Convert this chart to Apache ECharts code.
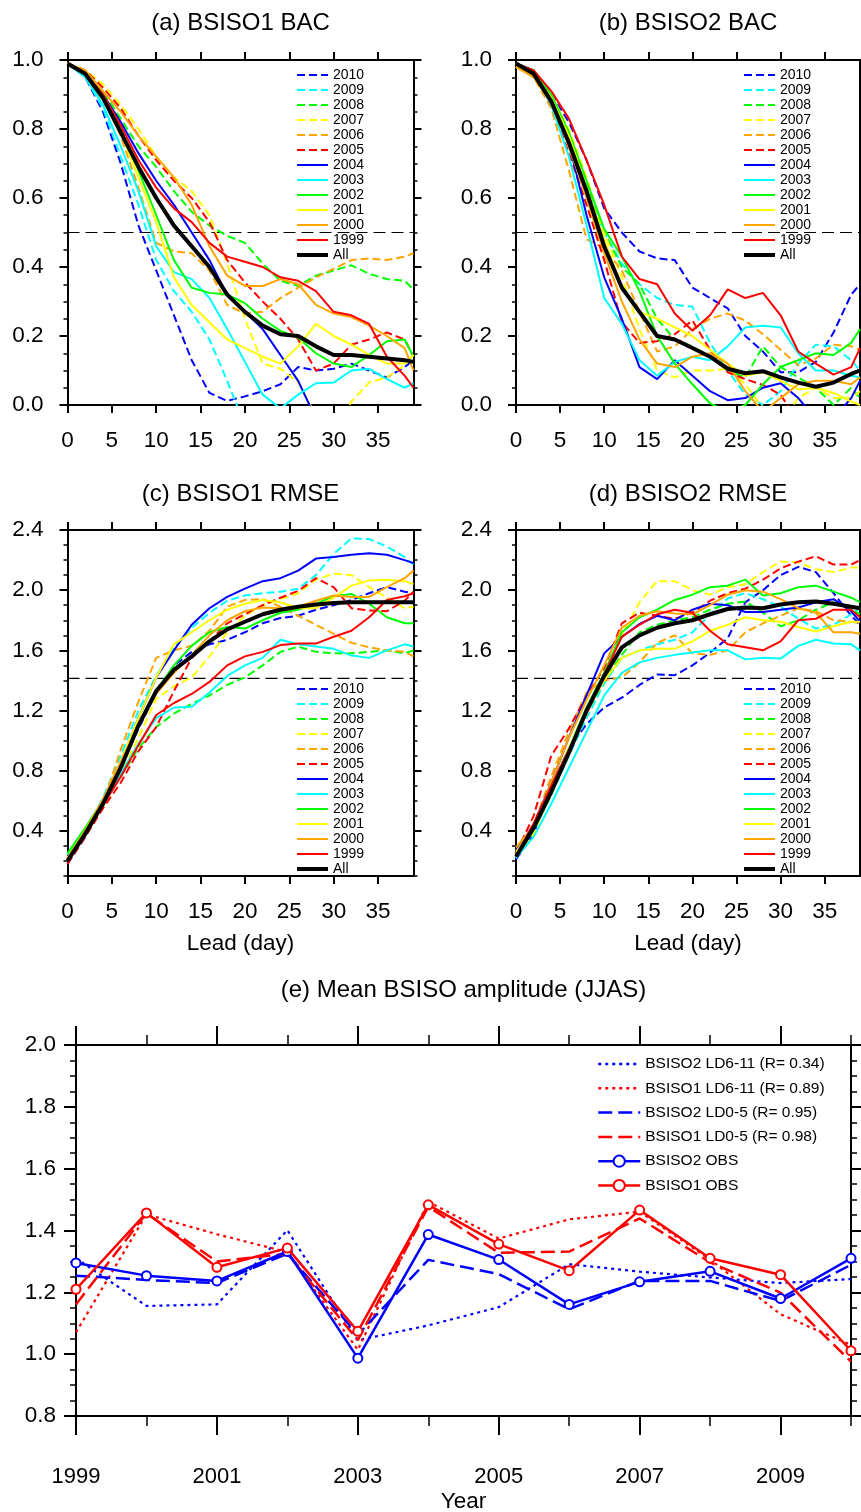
<!DOCTYPE html>
<html><head><meta charset="utf-8">
<script src="https://cdn.jsdelivr.net/npm/echarts@6/dist/echarts.min.js"></script>
<style>html,body{margin:0;padding:0;background:#fff}#c{width:861px;height:1512px}</style>
</head><body><div id="c"></div>
<script>
// ---------------- DATA ----------------
const LEAD = [0,2,4,6,8,10,12,14,16,18,20,22,24,26,28,30,32,34,36,38,39];
const NAMES = ['2010','2009','2008','2007','2006','2005','2004','2003','2002','2001','2000','1999','All'];
const LEAD_TICKS = [0,5,10,15,20,25,30,35];
const BAC_TICKS = [0,0.2,0.4,0.6,0.8,1.0];
const RMSE_TICKS = [0.4,0.8,1.2,1.6,2.0,2.4];
const BAC_REF = 0.5;
const RMSE_REF = 1.414;

// (a) BSISO1 BAC
const A_2010 = [0.99,0.95,0.85,0.70,0.52,0.39,0.26,0.13,0.035,0.012,0.025,0.04,0.06,0.11,0.10,0.105,0.12,0.10,0.08,0.11,0.13];
const A_2009 = [0.99,0.95,0.86,0.72,0.58,0.42,0.33,0.27,0.19,0.07,-0.06,null,null,null,null,null,null,null,null,null,null];
const A_2008 = [0.99,0.97,0.91,0.83,0.75,0.69,0.62,0.56,0.52,0.49,0.47,0.41,0.36,0.345,0.375,0.39,0.405,0.38,0.365,0.36,0.335];
const A_2007 = [0.99,0.97,0.93,0.87,0.80,0.72,0.66,0.62,0.55,0.41,0.25,0.12,0.105,0.065,-0.03,-0.08,0.01,0.065,0.08,0.115,0.145];
const A_2006 = [0.99,0.96,0.89,0.78,0.63,0.47,0.445,0.44,0.39,0.29,0.265,0.27,0.31,0.34,0.37,0.395,0.42,0.425,0.42,0.43,0.44];
const A_2005 = [0.99,0.97,0.92,0.86,0.78,0.71,0.65,0.60,0.53,0.42,0.355,0.30,0.25,0.19,0.10,0.12,0.175,0.19,0.21,0.19,0.14];
const A_2004 = [0.99,0.96,0.90,0.82,0.73,0.65,0.58,0.50,0.42,0.32,0.27,0.22,0.145,0.07,-0.04,null,null,null,null,null,null];
const A_2003 = [0.99,0.95,0.87,0.75,0.62,0.46,0.385,0.365,0.31,0.22,0.125,0.03,-0.01,0.03,0.063,0.065,0.10,0.105,0.075,0.05,0.063];
const A_2002 = [0.99,0.96,0.90,0.80,0.68,0.55,0.42,0.34,0.325,0.32,0.295,0.25,0.215,0.195,0.15,0.12,0.11,0.145,0.185,0.19,0.14];
const A_2001 = [0.99,0.96,0.89,0.79,0.66,0.53,0.37,0.29,0.24,0.19,0.165,0.14,0.12,0.17,0.235,0.20,0.175,0.145,0.12,0.12,0.145];
const A_2000 = [0.99,0.97,0.91,0.85,0.78,0.72,0.66,0.58,0.46,0.375,0.345,0.345,0.365,0.35,0.29,0.265,0.255,0.23,0.20,0.165,0.10];
const A_1999 = [0.99,0.96,0.90,0.81,0.71,0.63,0.57,0.53,0.47,0.43,0.415,0.40,0.37,0.36,0.33,0.27,0.26,0.235,0.14,0.085,0.05];
const A_ALL  = [0.99,0.96,0.89,0.79,0.69,0.60,0.52,0.46,0.40,0.32,0.27,0.23,0.205,0.20,0.17,0.145,0.145,0.14,0.135,0.13,0.125];

// (b) BSISO2 BAC
const B_2010 = [0.99,0.97,0.90,0.82,0.71,0.57,0.50,0.445,0.425,0.42,0.34,0.31,0.28,0.20,0.155,0.095,0.095,0.125,0.21,0.32,0.35];
const B_2009 = [0.99,0.96,0.88,0.76,0.63,0.50,0.41,0.35,0.31,0.29,0.285,0.18,0.10,0.03,0.0,0.04,0.12,0.175,0.17,0.13,0.10];
const B_2008 = [0.99,0.97,0.90,0.79,0.64,0.50,0.40,0.35,0.25,0.19,0.17,0.14,0.10,0.08,0.17,0.11,0.08,0.05,0.0,0.05,0.02];
const B_2007 = [0.99,0.97,0.90,0.80,0.66,0.50,0.37,0.22,0.10,0.08,0.10,0.10,0.105,0.06,-0.01,-0.05,0.02,0.05,0.02,0.02,0.04];
const B_2006 = [0.98,0.95,0.86,0.68,0.48,0.455,0.39,0.27,0.155,0.17,0.22,0.25,0.265,0.245,0.205,0.16,0.115,0.135,0.175,0.17,0.16];
const B_2005 = [0.99,0.96,0.87,0.73,0.58,0.42,0.24,0.18,0.185,0.205,0.245,0.16,0.095,0.075,0.058,0.03,-0.05,null,null,null,null];
const B_2004 = [0.99,0.97,0.89,0.76,0.55,0.37,0.25,0.11,0.075,0.13,0.085,0.04,0.014,0.02,0.05,0.063,0.02,-0.04,-0.04,0.02,0.07];
const B_2003 = [0.99,0.96,0.87,0.72,0.52,0.31,0.235,0.13,0.085,0.125,0.14,0.13,0.17,0.225,0.23,0.225,0.15,0.10,0.10,0.085,0.08];
const B_2002 = [0.99,0.97,0.90,0.79,0.65,0.51,0.43,0.33,0.20,0.12,0.06,0.005,-0.02,0.0,0.06,0.11,0.13,0.15,0.145,0.18,0.22];
const B_2001 = [0.98,0.96,0.89,0.78,0.63,0.48,0.34,0.27,0.25,0.225,0.20,0.16,0.12,0.085,0.095,0.07,0.045,0.05,0.035,0.01,0.0];
const B_2000 = [0.98,0.95,0.88,0.75,0.60,0.44,0.30,0.19,0.12,0.11,0.14,0.15,0.12,0.04,-0.02,0.02,0.06,0.07,0.07,0.06,0.08];
const B_1999 = [0.99,0.97,0.91,0.83,0.71,0.58,0.43,0.365,0.35,0.265,0.215,0.26,0.335,0.31,0.325,0.26,0.155,0.12,0.088,0.11,0.165];
const B_ALL  = [0.99,0.96,0.88,0.76,0.62,0.46,0.34,0.27,0.20,0.19,0.165,0.14,0.105,0.092,0.098,0.08,0.065,0.053,0.065,0.09,0.10];

// (c) BSISO1 RMSE
const C_2010 = [0.18,0.36,0.58,0.82,1.08,1.32,1.50,1.59,1.64,1.67,1.72,1.78,1.815,1.83,1.87,1.90,1.935,1.98,2.02,1.99,1.98];
const C_2009 = [0.22,0.40,0.62,0.90,1.20,1.43,1.62,1.75,1.85,1.93,1.965,1.98,1.99,2.01,2.10,2.24,2.345,2.34,2.29,2.22,2.17];
const C_2008 = [0.22,0.40,0.58,0.76,0.95,1.09,1.18,1.245,1.30,1.37,1.42,1.50,1.59,1.625,1.59,1.58,1.58,1.59,1.60,1.58,1.60];
const C_2007 = [0.20,0.38,0.56,0.78,1.02,1.28,1.36,1.42,1.56,1.72,1.83,1.90,1.94,1.98,2.07,2.11,2.10,2.02,1.95,1.88,1.89];
const C_2006 = [0.22,0.37,0.58,0.94,1.26,1.55,1.60,1.63,1.73,1.89,1.935,1.94,1.89,1.83,1.77,1.71,1.65,1.62,1.60,1.59,1.56];
const C_2005 = [0.18,0.36,0.55,0.72,0.93,1.09,1.33,1.55,1.66,1.78,1.84,1.90,1.95,1.995,2.08,2.02,1.88,1.865,1.86,1.93,1.99];
const C_2004 = [0.24,0.40,0.60,0.85,1.15,1.42,1.60,1.77,1.88,1.955,2.01,2.06,2.08,2.13,2.21,2.22,2.235,2.245,2.235,2.20,2.18];
const C_2003 = [0.24,0.40,0.58,0.78,0.98,1.15,1.22,1.225,1.32,1.43,1.50,1.55,1.67,1.64,1.625,1.61,1.565,1.55,1.60,1.64,1.625];
const C_2002 = [0.25,0.42,0.60,0.84,1.10,1.33,1.50,1.63,1.72,1.755,1.745,1.80,1.85,1.87,1.91,1.96,1.975,1.91,1.82,1.78,1.78];
const C_2001 = [0.22,0.40,0.60,0.86,1.15,1.42,1.64,1.72,1.80,1.87,1.91,1.935,1.92,1.88,1.88,1.95,2.03,2.065,2.07,2.06,2.04];
const C_2000 = [0.22,0.40,0.61,0.86,1.10,1.31,1.45,1.57,1.70,1.80,1.86,1.885,1.88,1.89,1.93,1.965,1.955,1.955,2.02,2.08,2.13];
const C_1999 = [0.20,0.38,0.57,0.76,0.97,1.17,1.25,1.31,1.39,1.50,1.56,1.59,1.635,1.645,1.645,1.69,1.73,1.82,1.935,1.96,1.98];
const C_ALL  = [0.20,0.38,0.58,0.82,1.10,1.33,1.47,1.56,1.66,1.74,1.79,1.84,1.87,1.89,1.905,1.915,1.92,1.92,1.92,1.92,1.92];

// (d) BSISO2 RMSE
const D_2010 = [0.21,0.38,0.69,0.95,1.11,1.22,1.285,1.37,1.44,1.435,1.50,1.585,1.68,1.92,2.00,2.10,2.155,2.12,1.98,1.83,1.77];
const D_2009 = [0.22,0.40,0.64,0.90,1.15,1.38,1.55,1.60,1.64,1.67,1.72,1.84,1.945,1.98,1.94,1.89,1.81,1.745,1.77,1.84,1.88];
const D_2008 = [0.23,0.40,0.64,0.92,1.18,1.40,1.57,1.72,1.77,1.80,1.82,1.87,1.91,1.925,1.85,1.76,1.80,1.87,1.92,1.87,1.84];
const D_2007 = [0.24,0.38,0.66,0.92,1.18,1.42,1.70,1.92,2.06,2.06,2.00,1.97,2.02,2.04,2.12,2.19,2.185,2.14,2.12,2.15,2.15];
const D_2006 = [0.27,0.44,0.76,1.06,1.32,1.40,1.42,1.52,1.65,1.70,1.58,1.57,1.60,1.72,1.78,1.83,1.88,1.86,1.80,1.79,1.78];
const D_2005 = [0.25,0.50,0.90,1.08,1.30,1.48,1.78,1.85,1.83,1.81,1.85,1.93,1.98,2.01,2.07,2.145,2.19,2.225,2.17,2.17,2.20];
const D_2004 = [0.27,0.44,0.72,1.02,1.30,1.58,1.69,1.775,1.83,1.80,1.87,1.91,1.90,1.855,1.855,1.87,1.885,1.92,1.94,1.86,1.79];
const D_2003 = [0.22,0.36,0.58,0.82,1.06,1.30,1.45,1.52,1.55,1.57,1.585,1.60,1.60,1.54,1.55,1.545,1.63,1.67,1.645,1.64,1.60];
const D_2002 = [0.25,0.42,0.68,0.95,1.22,1.45,1.72,1.82,1.87,1.935,1.97,2.02,2.03,2.07,1.965,1.98,2.02,2.03,1.99,1.95,1.92];
const D_2001 = [0.26,0.42,0.68,0.95,1.20,1.40,1.55,1.60,1.61,1.61,1.66,1.73,1.77,1.82,1.80,1.79,1.755,1.725,1.76,1.79,1.79];
const D_2000 = [0.29,0.43,0.72,1.02,1.27,1.50,1.75,1.83,1.86,1.845,1.84,1.90,1.97,2.00,1.99,1.94,1.88,1.85,1.72,1.72,1.71];
const D_1999 = [0.23,0.45,0.70,0.94,1.18,1.44,1.69,1.77,1.84,1.87,1.85,1.73,1.64,1.62,1.60,1.66,1.80,1.81,1.87,1.87,1.82];
const D_ALL  = [0.23,0.42,0.66,0.92,1.20,1.43,1.62,1.70,1.75,1.78,1.80,1.84,1.875,1.885,1.88,1.905,1.92,1.925,1.91,1.89,1.88];

// (e) Mean BSISO amplitude (JJAS)
const E_YEARS = [1999,2000,2001,2002,2003,2004,2005,2006,2007,2008,2009,2010];
const E_YEAR_TICKS = [1999,2001,2003,2005,2007,2009];
const E_AMP_TICKS = [0.8,1.0,1.2,1.4,1.6,1.8,2.0];
const E_NAMES = ['BSISO2 LD6-11 (R= 0.34)','BSISO1 LD6-11 (R= 0.89)','BSISO2 LD0-5 (R= 0.95)','BSISO1 LD0-5 (R= 0.98)','BSISO2 OBS','BSISO1 OBS'];
const B2_LD611 = [1.31,1.156,1.161,1.401,1.045,1.093,1.152,1.291,1.267,1.248,1.23,1.243];
const B1_LD611 = [1.071,1.452,1.388,1.33,1.014,1.493,1.374,1.436,1.461,1.306,1.129,1.03];
const B2_LD05  = [1.254,1.240,1.23,1.325,1.063,1.305,1.259,1.145,1.237,1.237,1.172,1.289];
const B1_LD05  = [1.161,1.455,1.30,1.325,1.045,1.477,1.328,1.332,1.439,1.297,1.199,0.976];
const B2_OBS   = [1.295,1.254,1.237,1.332,0.987,1.387,1.306,1.161,1.234,1.268,1.18,1.31];
const B1_OBS   = [1.21,1.457,1.281,1.343,1.074,1.483,1.356,1.27,1.466,1.31,1.257,1.011];

// ---------------- STYLE / BUILD ----------------
const FONT = "'Liberation Sans', Arial, Helvetica, sans-serif";
const TICK_FS = 22.5, TITLE_FS = 24;
const DASH = [8,4];
const STY = [
  {c:'#0000ff',t:DASH,w:2},{c:'#00ffff',t:DASH,w:2},{c:'#00ff00',t:DASH,w:2},
  {c:'#ffff00',t:DASH,w:2},{c:'#ffa500',t:DASH,w:2},{c:'#ff0000',t:DASH,w:2},
  {c:'#0000ff',t:'solid',w:2},{c:'#00ffff',t:'solid',w:2},{c:'#00ff00',t:'solid',w:2},
  {c:'#ffff00',t:'solid',w:2},{c:'#ffa500',t:'solid',w:2},{c:'#ff0000',t:'solid',w:2},
  {c:'#000000',t:'solid',w:4}
];
function steps(a,b,s){const r=[];for(let v=a;v<=b+1e-9;v+=s)r.push(Math.round(v*1000)/1000);return r;}

const grids=[], xAxes=[], yAxes=[], series=[], legends=[], graphics=[];

function tickAxis(gi,min,max,pos,vals,len,w,extra){
  return Object.assign({gridIndex:gi,type:'value',min:min,max:max,position:pos,
    splitLine:{show:false},
    axisLine:{show:false,onZero:false},
    axisTick:{show:true,inside:false,length:len,customValues:vals,lineStyle:{color:'#000',width:w}},
    axisLabel:{show:false}},extra||{});
}

function addPanel(p){
  const gi=grids.length;
  grids.push({left:p.left,top:p.top,width:p.width,height:p.height,containLabel:false,outerBoundsMode:'none'});
  const xi=xAxes.length;
  xAxes.push(tickAxis(gi,p.xmin,p.xmax,'bottom',p.xMajor,p.xMajLen,2,{
    axisLine:{show:true,onZero:false,lineStyle:{color:'#000',width:2}},
    axisLabel:{show:p.xLabels,customValues:p.xMajor,margin:p.xMargin,fontSize:p.xFs||TICK_FS,color:'#000',fontFamily:FONT,formatter:v=>String(Math.round(v))},
    name:p.xName||'',nameLocation:'middle',nameGap:p.xNameGap||0,
    nameTextStyle:{fontSize:TICK_FS,color:'#000',fontFamily:FONT}
  }));
  xAxes.push(tickAxis(gi,p.xmin,p.xmax,'top',p.xMajor,p.xMajLen,2,{
    axisLine:{show:true,onZero:false,lineStyle:{color:'#000',width:2}}}));
  if(p.xMinor){
    xAxes.push(tickAxis(gi,p.xmin,p.xmax,'bottom',p.xMinor,p.xMinLen,1.5));
    xAxes.push(tickAxis(gi,p.xmin,p.xmax,'top',p.xMinor,p.xMinLen,1.5));
  }
  const yi=yAxes.length;
  yAxes.push(tickAxis(gi,p.ymin,p.ymax,'left',p.yMajor,p.yMajLen,2,{
    axisLine:{show:true,onZero:false,lineStyle:{color:'#000',width:2}},
    axisLabel:{show:true,customValues:p.yMajor,margin:p.yMargin,fontSize:TICK_FS,color:'#000',fontFamily:FONT,formatter:v=>v.toFixed(1)}
  }));
  yAxes.push(tickAxis(gi,p.ymin,p.ymax,'right',p.yMajor,p.yMajLen,2,{
    axisLine:{show:true,onZero:false,lineStyle:{color:'#000',width:2}}}));
  yAxes.push(tickAxis(gi,p.ymin,p.ymax,'left',p.yMinor,p.yMinLen,1.5));
  yAxes.push(tickAxis(gi,p.ymin,p.ymax,'right',p.yMinor,p.yMinLen,1.5));
  graphics.push({type:'text',x:p.left+p.width/2,y:p.titleY,silent:true,
    style:{text:p.title,fontSize:TITLE_FS,fontFamily:FONT,fill:'#000',align:'center',verticalAlign:'middle'}});
  return {xi,yi};
}

function addLeadPanel(p,arrays,ref){
  const ax=addPanel(p);
  series.push({type:'line',name:'ref'+p.title,xAxisIndex:ax.xi,yAxisIndex:ax.yi,
    data:[[p.xmin,ref],[p.xmax,ref]],symbol:'none',silent:true,animation:false,
    lineStyle:{color:'#000',width:1.2,type:[12,6]},z:1});
  arrays.forEach((arr,k)=>{
    const s=STY[k];
    series.push({type:'line',name:NAMES[k],xAxisIndex:ax.xi,yAxisIndex:ax.yi,
      data:LEAD.map((x,j)=>[x,arr[j]]),symbol:'none',showSymbol:false,clip:true,
      connectNulls:false,animation:false,silent:true,
      lineStyle:{color:s.c,width:s.w,type:s.t},itemStyle:{color:s.c},z:2});
  });
  legends.push({data:NAMES.map((n,k)=>({name:n,itemStyle:{opacity:0},lineStyle:{width:STY[k].w}})),
    orient:'vertical',left:p.legLeft,top:p.legTop,
    itemWidth:31,itemHeight:14,itemGap:1,padding:0,selectedMode:false,
    itemStyle:{opacity:0},
    textStyle:{fontSize:14,color:'#000',fontFamily:FONT}});
}

const common={xmin:0,xmax:39,xMajor:LEAD_TICKS,xMajLen:8,xMargin:24,xLabels:true,yMajLen:8,yMinLen:4,yMargin:24};

addLeadPanel(Object.assign({},common,{left:67.5,top:60,width:346,height:345,ymin:0,ymax:1,
  yMajor:BAC_TICKS,yMinor:steps(0,1,0.05),title:'(a) BSISO1 BAC',titleY:23,legLeft:295,legTop:68}),
  [A_2010,A_2009,A_2008,A_2007,A_2006,A_2005,A_2004,A_2003,A_2002,A_2001,A_2000,A_1999,A_ALL],BAC_REF);
addLeadPanel(Object.assign({},common,{left:516,top:60,width:344,height:345,ymin:0,ymax:1,
  yMajor:BAC_TICKS,yMinor:steps(0,1,0.05),title:'(b) BSISO2 BAC',titleY:23,legLeft:742,legTop:68}),
  [B_2010,B_2009,B_2008,B_2007,B_2006,B_2005,B_2004,B_2003,B_2002,B_2001,B_2000,B_1999,B_ALL],BAC_REF);
addLeadPanel(Object.assign({},common,{left:67.5,top:530,width:346,height:346,ymin:0.1,ymax:2.4,
  yMajor:RMSE_TICKS,yMinor:steps(0.1,2.4,0.1),title:'(c) BSISO1 RMSE',titleY:494,legLeft:295,legTop:682,
  xName:'Lead (day)',xNameGap:56}),
  [C_2010,C_2009,C_2008,C_2007,C_2006,C_2005,C_2004,C_2003,C_2002,C_2001,C_2000,C_1999,C_ALL],RMSE_REF);
addLeadPanel(Object.assign({},common,{left:516,top:530,width:344,height:346,ymin:0.1,ymax:2.4,
  yMajor:RMSE_TICKS,yMinor:steps(0.1,2.4,0.1),title:'(d) BSISO2 RMSE',titleY:494,legLeft:742,legTop:682,
  xName:'Lead (day)',xNameGap:56}),
  [D_2010,D_2009,D_2008,D_2007,D_2006,D_2005,D_2004,D_2003,D_2002,D_2001,D_2000,D_1999,D_ALL],RMSE_REF);

// panel e
(function(){
  const p={left:76,top:1045,width:775,height:371,xmin:1999,xmax:2010,xMajor:E_YEAR_TICKS,
    xMinor:[2000,2002,2004,2006,2008,2010],xMajLen:19,xMinLen:10,xMargin:50,xLabels:true,xFs:22,
    ymin:0.8,ymax:2.0,yMajor:E_AMP_TICKS,yMinor:steps(0.8,2.0,0.05),
    yMajLen:12,yMinLen:6,yMargin:20,title:'(e) Mean BSISO amplitude (JJAS)',titleY:990};
  const ax=addPanel(p);
  graphics.push({type:'text',x:p.left+p.width/2,y:1502,silent:true,
    style:{text:'Year',fontSize:TICK_FS,fontFamily:FONT,fill:'#000',align:'center',verticalAlign:'middle'}});
  const E_DATA=[B2_LD611,B1_LD611,B2_LD05,B1_LD05,B2_OBS,B1_OBS];
  const E_STY=[
    {c:'#0000ff',t:[3,4],w:2.2,sym:'none'},{c:'#ff0000',t:[3,4],w:2.2,sym:'none'},
    {c:'#0000ff',t:[14,6],w:2.5,sym:'none'},{c:'#ff0000',t:[14,6],w:2.5,sym:'none'},
    {c:'#0000ff',t:'solid',w:2.5,sym:'emptyCircle'},{c:'#ff0000',t:'solid',w:2.5,sym:'emptyCircle'}];
  E_DATA.forEach((arr,k)=>{
    const s=E_STY[k];
    series.push({type:'line',name:E_NAMES[k],xAxisIndex:ax.xi,yAxisIndex:ax.yi,
      data:E_YEARS.map((x,j)=>[x,arr[j]]),symbol:s.sym,symbolSize:9,showSymbol:s.sym!=='none',
      clip:false,animation:false,silent:true,
      lineStyle:{color:s.c,width:s.w,type:s.t},itemStyle:{color:s.c,borderColor:s.c,borderWidth:1.3},z:2+k});
  });
  legends.push({data:E_NAMES.map((n,k)=>k<4?{name:n,itemStyle:{opacity:0},lineStyle:{width:2.5}}:{name:n,lineStyle:{width:2.5}}),
    orient:'vertical',left:597,top:1056,
    itemWidth:42,itemHeight:14,itemGap:8.3,padding:0,selectedMode:false,
    textStyle:{fontSize:15.5,color:'#000',fontFamily:FONT}});
})();

const chart=echarts.init(document.getElementById('c'),null,{renderer:'canvas',width:861,height:1512});
chart.setOption({animation:false,backgroundColor:'#ffffff',grid:grids,xAxis:xAxes,yAxis:yAxes,
  series:series,legend:legends,graphic:graphics,tooltip:{show:false}});
</script></body></html>
